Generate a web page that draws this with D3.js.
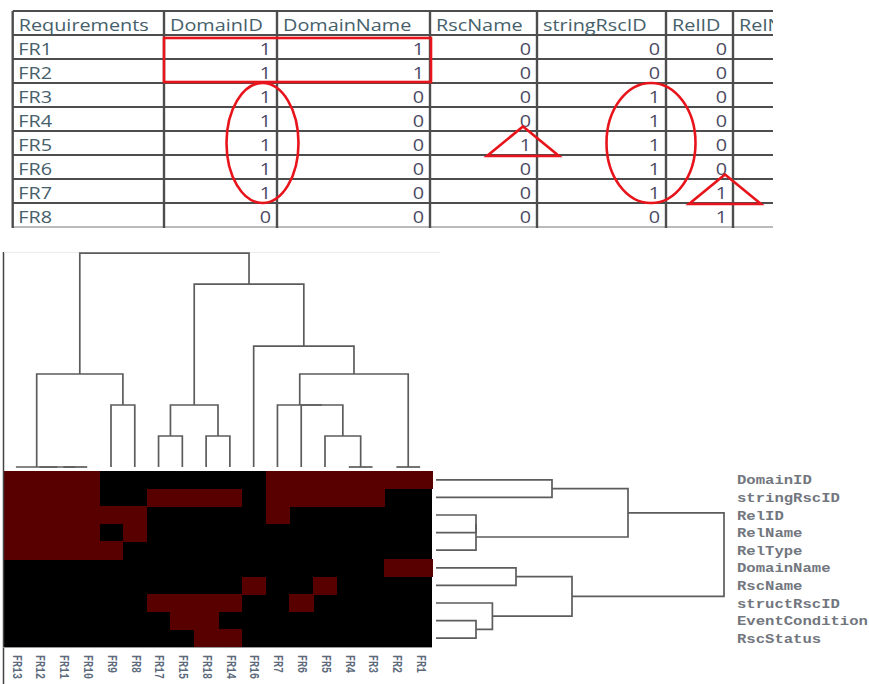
<!DOCTYPE html>
<html>
<head>
<meta charset="utf-8">
<script src="https://cdn.jsdelivr.net/npm/d3@7"></script>
<style>
  body { margin: 0; background: #fff; }
  svg { display: block; }
</style>
</head>
<body>
<svg width="869" height="684"></svg>
<script>
// heatmap rows (features) and columns (requirements), in dendrogram order
const features = ["DomainID", "stringRscID", "RelID", "RelName", "RelType",
  "DomainName", "RscName", "structRscID", "EventCondition", "RscStatus"];
const reqOrder = ["FR13", "FR12", "FR11", "FR10", "FR9", "FR8", "FR17", "FR15", "FR18",
  "FR14", "FR16", "FR7", "FR6", "FR5", "FR4", "FR3", "FR2", "FR1"];

// 1 = requirement uses the feature (one row per feature, columns as reqOrder)
const cells = [
  [1,1,1,1,0,0,0,0,0,0,0,1,1,1,1,1,1,1],
  [1,1,1,1,0,0,1,1,1,1,0,1,1,1,1,1,0,0],
  [1,1,1,1,1,1,0,0,0,0,0,1,0,0,0,0,0,0],
  [1,1,1,1,0,1,0,0,0,0,0,0,0,0,0,0,0,0],
  [1,1,1,1,1,0,0,0,0,0,0,0,0,0,0,0,0,0],
  [0,0,0,0,0,0,0,0,0,0,0,0,0,0,0,0,1,1],
  [0,0,0,0,0,0,0,0,0,0,1,0,0,1,0,0,0,0],
  [0,0,0,0,0,0,1,1,1,1,0,0,1,0,0,0,0,0],
  [0,0,0,0,0,0,0,1,1,0,0,0,0,0,0,0,0,0],
  [0,0,0,0,0,0,0,0,1,1,0,0,0,0,0,0,0,0]
];

// merge trees: [height, left, right]
const colTree = [6.9,
  [3, [0, "FR13", [0, "FR12", [0, "FR11", "FR10"]]], [2, "FR9", "FR8"]],
  [5.9,
    [2, [1, "FR17", "FR15"], [1, "FR18", "FR14"]],
    [3.9, "FR16", [3, [2, "FR7", [2, "FR6", [1, "FR5", [0, "FR4", "FR3"]]]], [0, "FR2", "FR1"]]]]];
const rowTree = [7.2,
  [4.8, [2.9, "DomainID", "stringRscID"], [1, [1, "RelID", "RelName"], "RelType"]],
  [3.4, [2, "DomainName", "RscName"], [1.41, "structRscID", [1, "EventCondition", "RscStatus"]]]];

// table on top
const tableReqs = ["FR1", "FR2", "FR3", "FR4", "FR5", "FR6", "FR7", "FR8"];
const tableCols = ["DomainID", "DomainName", "RscName", "stringRscID", "RelID", "RelName"];

// red marks drawn on the table
const notes = [
  { type: "rect", rows: ["FR1", "FR2"], cols: ["DomainID", "DomainName"] },
  { type: "ellipse", rows: ["FR3", "FR7"], col: "DomainID", rx: 36, dx: 14.5 },
  { type: "ellipse", rows: ["FR3", "FR7"], col: "stringRscID", rx: 44.5, dx: 15 },
  { type: "tri", row: "FR5", col: "RscName", dx: 14 },
  { type: "tri", row: "FR7", col: "RelID", dx: 8 }
];

const svg = d3.select("svg");
const val = (f, r) => cells[features.indexOf(f)][reqOrder.indexOf(r)];

// ---------- table ----------
const edges = [12.7, 164, 277, 430, 537, 666, 733, 840];
const colIdx = c => ["Requirements", ...tableCols].indexOf(c);
const rowY = d3.scaleBand().domain(["head", ...tableReqs]).range([11, 227]);

svg.append("clipPath").attr("id", "tclip")
  .append("rect").attr("x", 0).attr("y", 0).attr("width", 773).attr("height", 240);
const table = svg.append("g").attr("clip-path", "url(#tclip)");
const tfont = "'Open Sans', 'Noto Sans', sans-serif";

table.selectAll("line.h")
  .data(rowY.domain().map(d => rowY(d)).concat([rowY.range()[1]]))
  .enter().append("line")
  .attr("x1", edges[0]).attr("x2", 780)
  .attr("y1", d => d).attr("y2", d => d)
  .attr("stroke", (d, i, a) => i === a.length - 1 ? "#bbb" : "#4d4d4d")
  .attr("stroke-width", 2);

table.selectAll("line.v")
  .data(edges.slice(0, -1))
  .enter().append("line")
  .attr("x1", d => d).attr("x2", d => d)
  .attr("y1", 11).attr("y2", 228)
  .attr("stroke", "#4d4d4d")
  .attr("stroke-width", 2.4);

const sx = 1.24;
table.selectAll("text.head")
  .data(["Requirements", ...tableCols])
  .enter().append("text")
  .attr("transform", (d, i) => `translate(${edges[i] + 6},${rowY("head") + 19.5}) scale(${sx},1)`)
  .attr("font-family", tfont).attr("font-size", 16)
  .attr("fill", "#45606a")
  .text(d => d);

table.selectAll("text.req")
  .data(tableReqs)
  .enter().append("text")
  .attr("transform", d => `translate(${edges[0] + 5.5},${rowY(d) + 19.5}) scale(${sx},1)`)
  .attr("font-family", tfont).attr("font-size", 16)
  .attr("fill", "#45606a")
  .text(d => d);

table.selectAll("text.num")
  .data(tableReqs.flatMap(r => tableCols.map(c => ({ r, c, v: val(c, r) }))))
  .enter().append("text")
  .attr("transform", d => `translate(${edges[colIdx(d.c) + 1] - 6},${rowY(d.r) + 19.5}) scale(${sx},1)`)
  .attr("text-anchor", "end")
  .attr("font-family", tfont).attr("font-size", 16)
  .attr("fill", "#4b4a63")
  .text(d => d.v);

const red = svg.append("g").attr("fill", "none").attr("stroke", "#e8141b").attr("stroke-width", 2.6);
notes.forEach(n => {
  if (n.type === "rect") {
    const x0 = edges[colIdx(n.cols[0])], x1 = edges[colIdx(n.cols[1]) + 1];
    const y0 = rowY(n.rows[0]) + 3, y1 = rowY(n.rows[1]) + rowY.bandwidth() - 1;
    red.append("rect").attr("x", x0).attr("y", y0).attr("width", x1 - x0 + 1).attr("height", y1 - y0);
  } else if (n.type === "ellipse") {
    const y0 = rowY(n.rows[0]), y1 = rowY(n.rows[1]) + rowY.bandwidth();
    red.append("ellipse")
      .attr("cx", edges[colIdx(n.col) + 1] - n.dx)
      .attr("cy", (y0 + y1) / 2)
      .attr("rx", n.rx).attr("ry", (y1 - y0) / 2);
  } else {
    const ax = edges[colIdx(n.col) + 1] - n.dx, ay = rowY(n.row) - 4.5;
    const by = rowY(n.row) + rowY.bandwidth() + 1;
    red.append("path").attr("d", `M${ax},${ay}L${ax + 36},${by}H${ax - 36}Z`);
  }
});

// ---------- heatmap ----------
const x = d3.scaleBand().domain(reqOrder).range([4, 432]);
const y = d3.scaleBand().domain(features).range([471, 647]);

svg.append("rect").attr("x", 4).attr("y", 471).attr("width", 428).attr("height", 176)
  .attr("fill", "#000");
svg.append("g").attr("shape-rendering", "crispEdges").selectAll("rect")
  .data(features.flatMap((f, i) => reqOrder.map((r, j) => ({ f, r, v: cells[i][j] })))
    .filter(d => d.v))
  .enter().append("rect")
  .attr("x", d => x(d.r)).attr("y", d => y(d.f))
  .attr("width", x.bandwidth() + 0.6).attr("height", y.bandwidth() + 0.6)
  .attr("fill", "#580000");

// frame
svg.append("line").attr("x1", 3.5).attr("x2", 3.5).attr("y1", 252).attr("y2", 684)
  .attr("stroke", "#444").attr("stroke-width", 1.5);
svg.append("line").attr("x1", 4).attr("x2", 440).attr("y1", 252.5).attr("y2", 252.5)
  .attr("stroke", "#ececec").attr("stroke-width", 1);
svg.append("line").attr("x1", 3).attr("x2", 432).attr("y1", 647.5).attr("y2", 647.5)
  .attr("stroke", "#999").attr("stroke-width", 1);

// ---------- dendrograms ----------
function place(tree, pos) {
  const root = d3.hierarchy(tree, d => Array.isArray(d) ? d.slice(1) : null);
  root.eachAfter(n => {
    n.h = n.children ? n.data[0] : 0;
    n.p = n.children ? d3.mean(n.children, c => c.p) : pos(n.data);
  });
  return root.descendants().filter(n => n.children);
}

const hTop = d3.scaleLinear().domain([0, 7]).range([467, 250]);
svg.append("g").selectAll("path")
  .data(place(colTree, d => x(d) + x.bandwidth() / 2))
  .enter().append("path")
  .attr("fill", "none").attr("stroke", "#5c5c5c").attr("stroke-width", 1.7)
  .attr("d", n => {
    const [a, b] = n.children;
    return `M${a.p},${hTop(a.h)}V${hTop(n.h)}H${b.p}V${hTop(b.h)}`;
  });

const hRow = d3.scaleLinear().domain([0, 8]).range([436, 756]);
svg.append("g").selectAll("path")
  .data(place(rowTree, d => y(d) + y.bandwidth() / 2))
  .enter().append("path")
  .attr("fill", "none").attr("stroke", "#5c5c5c").attr("stroke-width", 1.7)
  .attr("d", n => {
    const [a, b] = n.children;
    return `M${hRow(a.h)},${a.p}H${hRow(n.h)}V${b.p}H${hRow(b.h)}`;
  });

// ---------- labels ----------
const mono = "'Liberation Mono', 'DejaVu Sans Mono', monospace";
svg.append("g").selectAll("text")
  .data(features)
  .enter().append("text")
  .attr("transform", d => `translate(737,${y(d) + y.bandwidth() / 2 + 4.5}) scale(1.2,1)`)
  .attr("font-family", mono).attr("font-size", 13).attr("font-weight", "bold")
  .attr("fill", "#72767e")
  .text(d => d);

svg.append("g").selectAll("text")
  .data(reqOrder)
  .enter().append("text")
  .attr("transform", d => `translate(${x(d) + x.bandwidth() / 2},655) scale(1.2,1) rotate(90)`)
  .attr("dominant-baseline", "middle")
  .attr("font-family", mono).attr("font-size", 10).attr("font-weight", "bold")
  .attr("fill", "#5c6a7c")
  .text(d => d);
</script>
</body>
</html>
